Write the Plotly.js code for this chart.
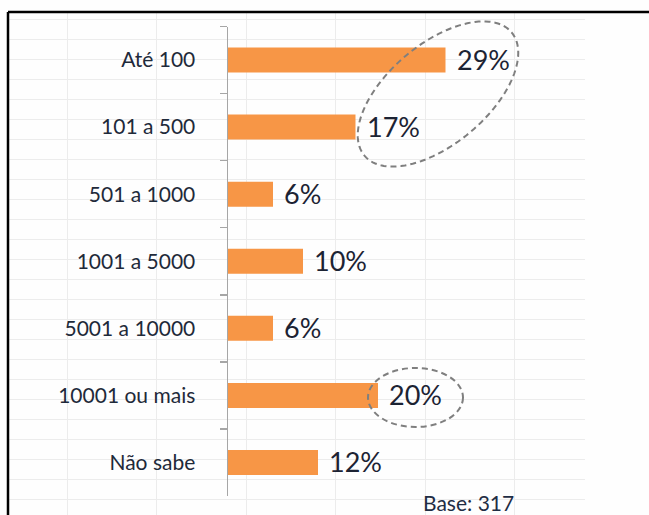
<!DOCTYPE html>
<html>
<head>
<meta charset="utf-8">
<script src="https://cdn.plot.ly/plotly-3.0.1.min.js"></script>
<style>html,body{margin:0;padding:0;background:#fff}#chart{width:649px;height:515px}</style>
</head>
<body>
<div id="chart"></div>
<script>
// Data
const categories = ["Até 100", "101 a 500", "501 a 1000", "1001 a 5000", "5001 a 10000", "10001 ou mais", "Não sabe"];
const values = [29, 17, 6, 10, 6, 20, 12];
const valueLabels = ["29%", "17%", "6%", "10%", "6%", "20%", "12%"];
const baseNote = "Base: 317";

const W = 649, H = 515;
const px = x => x / W;
const py = y => 1 - y / H;

// rotated dashed ellipse (highlight around first two labels)
function ellipsePath(cx, cy, a, b, angDeg) {
  const t = angDeg * Math.PI / 180;
  const ux = Math.cos(t), uy = -Math.sin(t);
  const vx = Math.sin(t), vy = Math.cos(t);
  let d = "";
  const n = 120;
  for (let i = 0; i <= n; i++) {
    const th = 2 * Math.PI * i / n;
    const x = cx + a * Math.cos(th) * ux + b * Math.sin(th) * vx;
    const y = cy + a * Math.cos(th) * uy + b * Math.sin(th) * vy;
    d += (i === 0 ? "M" : "L") + px(x).toFixed(5) + "," + py(y).toFixed(5);
  }
  return d + "Z";
}

const gridTrace = {x: [8, 585], y: [515, 12], xaxis: "x", yaxis: "y", mode: "markers",
  marker: {opacity: 0}, hoverinfo: "skip", showlegend: false, type: "scatter"};

const barTrace = {
  type: "bar", orientation: "h", x: values, y: categories, xaxis: "x2", yaxis: "y2",
  marker: {color: "#F79646"}, hoverinfo: "skip", showlegend: false
};

const annotations = categories.map((c, i) => ({
  x: values[i], y: c, xref: "x2", yref: "y2", text: valueLabels[i], showarrow: false,
  xanchor: "left", yanchor: "middle", xshift: 9, yshift: 1,
  font: {family: "Lato, sans-serif", size: 27, color: "#1c2333"}
}));
annotations.push({
  x: px(421), y: 0, xref: "paper", yref: "paper", text: baseNote, showarrow: false,
  xanchor: "left", yanchor: "bottom", yshift: -2, font: {family: "Lato, sans-serif", size: 21, color: "#1f2d44"}
});

const dashLine = {color: "#7f7f7f", width: 2, dash: "6px,4px"};
const shapes = [
  {type: "path", xref: "paper", yref: "paper", path: ellipsePath(438, 94, 96, 50, 40), line: dashLine},
  {type: "circle", xref: "paper", yref: "paper", x0: px(368), x1: px(463), y0: py(427), y1: py(368), line: dashLine},
  {type: "line", xref: "paper", yref: "paper", x0: px(8), x1: 1, y0: py(12), y1: py(12), line: {color: "#000", width: 2.5}},
  {type: "line", xref: "paper", yref: "paper", x0: px(8), x1: px(8), y0: py(12), y1: 0, line: {color: "#000", width: 2.5}}
];

const layout = {
  width: W, height: H, margin: {l: 0, r: 0, t: 0, b: 0},
  paper_bgcolor: "#fefefe", plot_bgcolor: "rgba(0,0,0,0)",
  showlegend: false,
  xaxis: {domain: [px(8), px(585)], range: [8, 585], tick0: 67, dtick: 89.5, showgrid: true,
    gridcolor: "#ececec", gridwidth: 1, showticklabels: false, ticks: "", zeroline: false, showline: false, fixedrange: true},
  yaxis: {domain: [0, py(12)], range: [515, 12], tick0: 19, dtick: 20, showgrid: true,
    gridcolor: "#ececec", gridwidth: 1, showticklabels: false, ticks: "", zeroline: false, showline: false, fixedrange: true},
  xaxis2: {domain: [px(228), px(588)], range: [0, 48], anchor: "y2", showgrid: false, showticklabels: false,
    zeroline: false, showline: false, ticks: "", fixedrange: true},
  yaxis2: {domain: [py(496), py(26.5)], anchor: "x2", type: "category", autorange: "reversed",
    showline: true, linecolor: "#a6a6a6", linewidth: 1.5, ticks: "outside", tickson: "boundaries",
    ticklen: 7, tickwidth: 1.5, tickcolor: "#a6a6a6", showgrid: false, zeroline: false,
    ticklabelstandoff: 27,
    tickfont: {family: "Lato, sans-serif", size: 21, color: "#1f2a3a"}, fixedrange: true},
  bargap: 0.627,
  shapes: shapes,
  annotations: annotations
};

Plotly.newPlot("chart", [gridTrace, barTrace], layout, {displayModeBar: false, staticPlot: true});
</script>
</body>
</html>
